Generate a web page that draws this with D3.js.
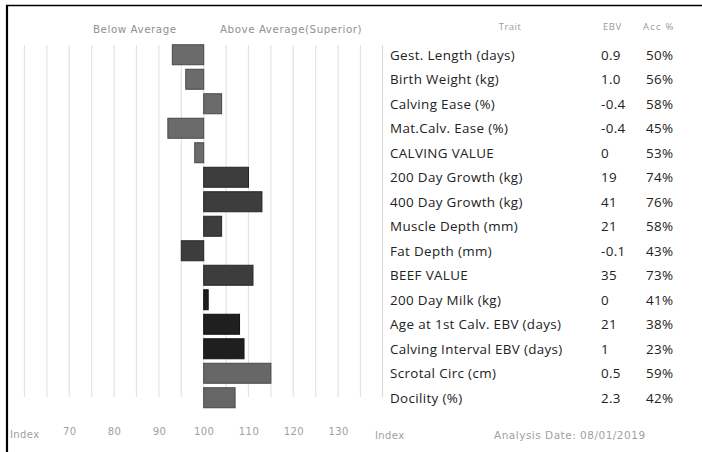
<!DOCTYPE html>
<html><head><meta charset="utf-8">
<script src="https://cdn.jsdelivr.net/npm/d3@7"></script>
<style>html,body{margin:0;padding:0;background:#fff;}svg{display:block;}</style>
</head><body>
<svg id="c" width="702" height="452"></svg>
<script>
const traits = ["Gest. Length (days)","Birth Weight (kg)","Calving Ease (%)","Mat.Calv. Ease (%)","CALVING VALUE","200 Day Growth (kg)","400 Day Growth (kg)","Muscle Depth (mm)","Fat Depth (mm)","BEEF VALUE","200 Day Milk (kg)","Age at 1st Calv. EBV (days)","Calving Interval EBV (days)","Scrotal Circ (cm)","Docility (%)"];
const ebv = ["0.9","1.0","-0.4","-0.4","0","19","41","21","-0.1","35","0","21","1","0.5","2.3"];
const acc = ["50%","56%","58%","45%","53%","74%","76%","58%","43%","73%","41%","38%","23%","59%","42%"];
const indexVals = [93,96,104,92,98,110,113,104,95,111,101,108,109,115,107];
const groups = ["calving","calving","calving","calving","calving","growth","growth","growth","growth","growth","maternal","maternal","maternal","other","other"];
const tickLabels = [70,80,90,100,110,120,130];
const gridValues = [60,65,70,75,80,85,90,95,100,105,110,115,120,125,130,135];

const fills = {calving:"#6b6b6b", growth:"#3d3d3d", maternal:"#1f1f1f", other:"#676767"};
const strokes = {calving:"#474747", growth:"#262626", maternal:"#111", other:"#474747"};

const svg = d3.select("#c");
const x = d3.scaleLinear().domain([60,135]).range([24.5,360.5]);
const y = d3.scaleBand().domain(traits).range([42.5,410]).paddingInner(4.5/24.5).paddingOuter(2.25/24.5);

function sty(sel,o){for(const k in o) sel.style(k,o[k]); return sel;}

// gridlines
svg.append("g").selectAll("line").data(gridValues).join("line")
  .attr("x1", d=>x(d)).attr("x2", d=>x(d)).attr("y1",45).attr("y2",397)
  .attr("stroke","#e3e3e3").attr("stroke-width",1.2);

// bars
svg.append("g").selectAll("rect").data(traits).join("rect")
  .attr("x",(d,i)=>Math.min(x(indexVals[i]),x(100)))
  .attr("width",(d,i)=>Math.abs(x(indexVals[i])-x(100)))
  .attr("y",d=>y(d)).attr("height",y.bandwidth())
  .attr("fill",(d,i)=>fills[groups[i]])
  .attr("stroke",(d,i)=>strokes[groups[i]]).attr("stroke-width",1);

// header labels
const hdr = {"font-family":"DejaVu Sans","font-size":"10.3px","fill":"#8f8f8f","letter-spacing":"0.55px"};
sty(svg.append("text").attr("x",93).attr("y",33).text("Below Average"),hdr);
sty(svg.append("text").attr("x",220).attr("y",33).text("Above Average(Superior)"),hdr);

// axis tick labels
const foot = {"font-family":"DejaVu Sans","font-size":"10px","fill":"#a0a0a0","letter-spacing":"0.4px"};
const ax = d3.axisBottom(x).tickValues(tickLabels).tickSize(0).tickPadding(0);
const axg = svg.append("g").attr("transform","translate(0,429)").call(ax);
axg.select(".domain").remove();
axg.selectAll("text").attr("font-family",null).attr("font-size",null).attr("fill",null).attr("dy","0.6em").each(function(){sty(d3.select(this),foot);});
sty(svg.append("text").attr("x",10).attr("y",438).text("Index"),foot);
sty(svg.append("text").attr("x",375).attr("y",439).text("Index"),foot);
sty(svg.append("text").attr("x",494).attr("y",439).text("Analysis Date: 08/01/2019"),Object.assign({},foot,{"font-size":"10.5px","letter-spacing":"0.5px"}));

// table header
const th = {"font-family":"Open Sans","font-size":"9.5px","fill":"#9a9a9a","letter-spacing":"0.5px"};
sty(svg.append("text").attr("x",510).attr("y",30).attr("text-anchor","middle").text("Trait"),th);
sty(svg.append("text").attr("x",603).attr("y",30).text("EBV"),th);
sty(svg.append("text").attr("x",643).attr("y",30).text("Acc %"),Object.assign({},th,{"letter-spacing":"1.2px"}));

// vertical separator
svg.append("line").attr("x1",382.5).attr("x2",382.5).attr("y1",45).attr("y2",397).attr("stroke","#dcdcdc").attr("stroke-width",1.2);

const tr = {"font-family":"Open Sans","font-size":"13.4px","fill":"#222","letter-spacing":"0.35px"};
const rows = svg.append("g");
traits.forEach((t,i)=>{
  const cy = y(t)+y.bandwidth()/2;
  sty(rows.append("text").attr("x",390).attr("y",cy).attr("dy","0.36em").text(t),tr);
  sty(rows.append("text").attr("x",601).attr("y",cy).attr("dy","0.36em").text(ebv[i]),tr);
  sty(rows.append("text").attr("x",646).attr("y",cy).attr("dy","0.36em").text(acc[i]),tr);
});

// frame
svg.append("line").attr("x1",6).attr("x2",702).attr("y1",5.5).attr("y2",5.5).attr("stroke","#000").attr("stroke-width",1.5);
svg.append("line").attr("x1",7).attr("x2",7).attr("y1",5).attr("y2",452).attr("stroke","#000").attr("stroke-width",2.2);
</script>
</body></html>
